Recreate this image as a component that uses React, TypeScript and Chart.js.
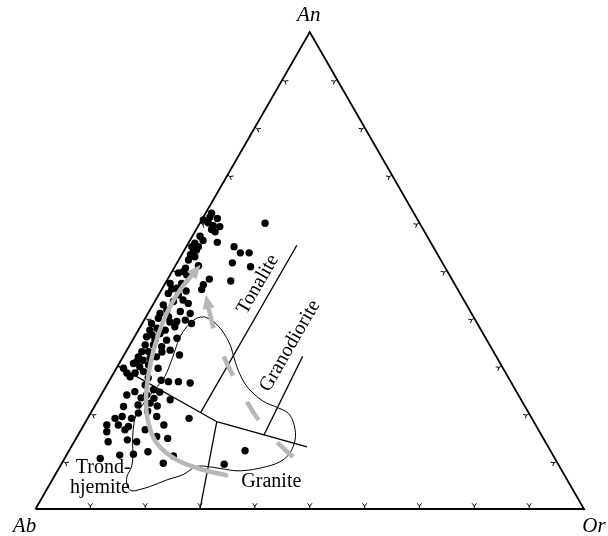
import React, { useEffect, useRef } from "react";
import { Chart, registerables } from "chart.js";

Chart.register(...registerables);

// Normative feldspar compositions, mol % (Ab = 100 - An - Or)
const sampleAn: number[] = [
  62.0, 61.2, 60.9, 60.6, 60.0, 59.4, 59.2, 58.6, 58.1, 59.9,
  57.2, 56.3, 55.9, 55.7, 55.0, 55.0, 53.9, 54.3, 53.3, 52.9,
  52.2, 51.0, 55.0, 53.7, 53.7, 51.6, 50.8, 50.5, 49.5, 49.8,
  49.1, 48.2, 47.8, 47.3, 47.3, 47.0, 46.0, 46.3, 45.2, 44.9,
  43.5, 43.8, 43.1, 42.8, 41.7, 41.4, 41.0, 41.0, 40.0, 40.3,
  39.3, 39.6, 38.9, 38.9, 37.9, 37.5, 37.5, 38.2, 36.1, 36.5,
  36.8, 35.4, 35.4, 35.8, 34.4, 34.4, 34.0, 33.0, 33.0, 32.3,
  31.9, 31.2, 31.6, 31.9, 30.5, 29.8, 30.2, 29.5, 29.5, 30.9,
  28.5, 27.7, 28.5, 28.8, 26.7, 26.7, 26.4, 26.0, 25.0, 24.5,
  24.6, 23.9, 23.9, 23.2, 22.9, 22.2, 21.6, 21.8, 21.5, 20.5,
  20.1, 19.4, 19.4, 19.0, 19.0, 19.0, 17.6, 17.6, 17.3, 16.6,
  17.6, 16.2, 16.6, 15.2, 14.8, 14.1, 14.5, 14.1, 12.0, 11.5,
  11.3, 11.1, 10.6, 9.6, 12.2, 9.4, 45.7, 39.2, 32.9, 27.5,
  23.3, 27.0, 46.1, 33.3,
];
const sampleOr: number[] = [
  1.1, 1.2, 2.7, 0.3, 1.5, 2.7, 4.0, 2.8, 3.7, 11.9,
  1.4, 2.4, 5.2, 1.2, 1.0, 2.2, 1.8, 2.2, 1.6, 2.6,
  1.8, 4.2, 8.7, 10.5, 12.1, 10.1, 13.8, 2.1, 1.3, 2.1,
  3.0, 7.6, 11.7, 0.9, 3.0, 7.1, 7.3, 2.6, 1.6, 3.6,
  3.4, 5.0, 6.3, 1.9, 3.1, 5.7, 7.7, 2.2, 2.4, 4.1,
  6.1, 7.5, 9.0, 1.7, 3.2, 2.1, 4.9, 6.3, 2.2, 3.0,
  4.3, 4.1, 6.2, 7.9, 2.8, 4.3, 6.0, 2.9, 4.1, 10.1,
  2.8, 4.0, 5.1, 6.1, 2.6, 4.1, 5.5, 7.6, 1.3, 3.0,
  2.4, 3.4, 3.9, 5.3, 10.9, 12.7, 15.0, 7.0, 9.0, 10.4,
  5.8, 4.7, 8.3, 10.0, 13.1, 9.8, 11.4, 7.8, 5.3, 10.2,
  8.7, 12.4, 6.1, 5.0, 8.0, 18.5, 14.6, 6.3, 8.3, 8.0,
  4.2, 4.9, 11.7, 14.5, 16.7, 11.4, 9.5, 6.2, 14.5, 12.1,
  9.7, 19.6, 6.5, 18.5, 32.1, 29.7, 4.6, 4.9, 6.6, 6.8,
  7.6, 9.4, 1.8, 7.9,
];

// Field boundaries, [An, Or]
const lowerBoundary: [number, number][] = [[30.0, 0.0], [18.3, 23.9], [13.0, 43.0]];
const tonaliteGranodiorite: [number, number][] = [[20.2, 20.0], [55.3, 20.0]];
const granodioriteGranite: [number, number][] = [[15.5, 33.9], [32.0, 32.7]];
const graniteTrondhjemite: [number, number][] = [[0.0, 30.0], [18.3, 23.9]];

// Outline of the comparison field, [An, Or]
const fieldOutline: [number, number][] = [
  [40.3, 10.7], [39.3, 12.8], [37.5, 15.2], [34.4, 18.3], [32.3, 19.9],
  [29.1, 22.4], [25.6, 25.8], [22.6, 30.2], [21.3, 33.4], [20.1, 36.0],
  [18.2, 37.9], [15.2, 39.8], [12.4, 40.5], [10.3, 40.0], [8.9, 37.7],
  [8.0, 33.3], [8.5, 29.4], [9.0, 26.1], [8.8, 24.7], [7.2, 23.3],
  [6.1, 20.9], [4.7, 18.5], [4.1, 17.0], [3.8, 15.7], [4.6, 14.5],
  [6.7, 13.3], [8.8, 13.1], [11.3, 12.1], [13.8, 10.8], [16.6, 9.5],
  [19.7, 8.5], [22.4, 8.7], [25.2, 9.2], [27.0, 9.7], [30.2, 9.4],
  [33.3, 8.8], [36.1, 8.3], [38.2, 8.5], [40.0, 9.4], [40.3, 10.7],
];

// Differentiation trends; the last pair is the arrow tip
const trendSolid: [number, number][] = [
  [7.0, 31.6], [8.2, 26.5], [10.3, 20.6], [13.8, 15.2], [18.0, 11.6],
  [22.9, 8.7], [28.5, 6.4], [34.4, 4.6], [41.0, 3.4], [45.9, 3.4],
  [49.4, 4.1], [51.2, 4.5],
];
const trendDashed: [number, number][] = [
  [10.9, 41.5], [13.9, 37.2], [18.5, 31.5], [22.3, 27.5], [25.2, 24.8],
  [27.9, 22.1], [31.9, 18.4], [35.0, 15.9], [37.9, 13.5], [42.4, 10.3],
  [44.9, 8.6],
];

const tickSteps = [10, 20, 30, 40, 50, 60, 70, 80, 90];

const fieldNames = ["Tonalite", "Granodiorite", "Trond-", "hjemite", "Granite"];
const fieldNameAn = [47.1, 34.2, 8.7, 4.5, 5.8];
const fieldNameOr = [17.0, 29.3, 8.0, 9.5, 40.1];
const fieldNameAngle = [-60, -60, 0, 0, 0];

const GRAY = "#b7b7b7";
const SERIF = '"Liberation Serif", "Times New Roman", serif';

const toXY = (an: number, or: number) => ({ x: or + an / 2, y: an });
const pairsToXY = (pts: [number, number][]) => pts.map(([an, or]) => toXY(an, or));

function pix(chart: any, an: number, or: number) {
  const p = toXY(an, or);
  return { x: chart.scales.x.getPixelForValue(p.x), y: chart.scales.y.getPixelForValue(p.y) };
}

const ternaryDecor = {
  id: "ternaryDecor",
  beforeDatasetsDraw(chart: any) {
    const ctx = chart.ctx;
    const centre = pix(chart, 100 / 3, 100 / 3);
    ctx.save();
    ctx.strokeStyle = "#000";
    ctx.lineWidth = 1;
    const sides = [
      (k: number) => [0, k] as [number, number],
      (k: number) => [k, 0] as [number, number],
      (k: number) => [k, 100 - k] as [number, number],
    ];
    const sideEnds = [
      [pix(chart, 0, 0), pix(chart, 0, 100)],
      [pix(chart, 0, 0), pix(chart, 100, 0)],
      [pix(chart, 0, 100), pix(chart, 100, 0)],
    ];
    sides.forEach((f, i) => {
      const [a, b] = sideEnds[i];
      let nx = -(b.y - a.y);
      let ny = b.x - a.x;
      const len = Math.hypot(nx, ny);
      nx /= len;
      ny /= len;
      tickSteps.forEach((k) => {
        const [an, or] = f(k);
        const p = pix(chart, an, or);
        let sx = nx, sy = ny;
        if ((centre.x - p.x) * sx + (centre.y - p.y) * sy < 0) { sx = -sx; sy = -sy; }
        const mx = p.x + sx * 3, my = p.y + sy * 3;
        ctx.beginPath();
        ctx.moveTo(p.x, p.y);
        ctx.lineTo(mx, my);
        for (const s of [-1, 1]) {
          const ang = (s * 40 * Math.PI) / 180;
          const ax = sx * Math.cos(ang) - sy * Math.sin(ang);
          const ay = sx * Math.sin(ang) + sy * Math.cos(ang);
          ctx.moveTo(mx, my);
          ctx.lineTo(mx + ax * 3.5, my + ay * 3.5);
        }
        ctx.stroke();
      });
    });
    ctx.restore();
  },
  afterDatasetDraw(chart: any, args: any) {
    const ds = chart.data.datasets[args.index];
    if (!ds.arrowFrom) return;
    const ctx = chart.ctx;
    const from = pix(chart, ds.arrowFrom[0], ds.arrowFrom[1]);
    const tip = pix(chart, ds.arrowTip[0], ds.arrowTip[1]);
    const dx = tip.x - from.x, dy = tip.y - from.y;
    const l = Math.hypot(dx, dy);
    const ux = dx / l, uy = dy / l;
    const bx = tip.x - ux * 14, by = tip.y - uy * 14;
    ctx.save();
    ctx.fillStyle = GRAY;
    ctx.beginPath();
    ctx.moveTo(tip.x, tip.y);
    ctx.lineTo(bx - uy * 6, by + ux * 6);
    ctx.lineTo(bx + uy * 6, by - ux * 6);
    ctx.closePath();
    ctx.fill();
    ctx.restore();
  },
  afterDraw(chart: any) {
    const ctx = chart.ctx;
    const ab = pix(chart, 0, 0);
    const or = pix(chart, 0, 100);
    const an = pix(chart, 100, 0);
    ctx.save();
    ctx.fillStyle = "#000";
    ctx.textAlign = "center";
    ctx.textBaseline = "alphabetic";
    ctx.font = `italic 21px ${SERIF}`;
    ctx.fillText("An", an.x - 1, an.y - 11);
    ctx.fillText("Ab", ab.x - 11, ab.y + 23);
    ctx.fillText("Or", or.x + 10, or.y + 23);
    ctx.font = `20px ${SERIF}`;
    ctx.textBaseline = "middle";
    fieldNames.forEach((name, i) => {
      const p = pix(chart, fieldNameAn[i], fieldNameOr[i]);
      ctx.save();
      ctx.translate(p.x, p.y);
      ctx.rotate((fieldNameAngle[i] * Math.PI) / 180);
      ctx.fillText(name, 0, 0);
      ctx.restore();
    });
    ctx.restore();
  },
};

export default function App() {
  const canvasRef = useRef<HTMLCanvasElement | null>(null);

  useEffect(() => {
    if (!canvasRef.current) return;
    const line = (data: any[], extra: any) => ({
      type: "line",
      data,
      showLine: true,
      fill: false,
      pointRadius: 0,
      borderColor: "#000",
      borderWidth: 1.3,
      tension: 0,
      clip: false,
      ...extra,
    });
    const frame = [toXY(0, 0), toXY(0, 100), toXY(100, 0), toXY(0, 0)];
    // The first dataset is painted last, so the trends sit above the samples
    const chart = new Chart(canvasRef.current, {
      type: "scatter",
      data: {
        datasets: [
          line(pairsToXY(trendSolid.slice(0, -1)), {
            borderColor: GRAY,
            borderWidth: 4.5,
            tension: 0.35,
            arrowFrom: trendSolid[trendSolid.length - 2],
            arrowTip: trendSolid[trendSolid.length - 1],
          }),
          line(pairsToXY(trendDashed.slice(0, -1)), {
            borderColor: GRAY,
            borderWidth: 4.5,
            borderDash: [21.5, 29.5],
            tension: 0.2,
            arrowFrom: trendDashed[trendDashed.length - 2],
            arrowTip: trendDashed[trendDashed.length - 1],
          }),
          {
            label: "samples",
            data: sampleAn.map((an, i) => toXY(an, sampleOr[i])),
            pointRadius: 3.7,
            pointBackgroundColor: "#000",
            pointBorderWidth: 0,
            borderWidth: 0,
            clip: false,
          } as any,
          line(pairsToXY(fieldOutline), { borderWidth: 1, tension: 0.35 }),
          line(pairsToXY(lowerBoundary), {}),
          line(pairsToXY(tonaliteGranodiorite), {}),
          line(pairsToXY(granodioriteGranite), {}),
          line(pairsToXY(graniteTrondhjemite), {}),
          line(frame, { borderWidth: 1.8, borderJoinStyle: "miter" }),
        ] as any,
      },
      options: {
        animation: false,
        responsive: false,
        events: [],
        layout: { padding: { left: 35.5, right: 24, top: 32, bottom: 27 } },
        scales: {
          x: { type: "linear", min: 0, max: 100, display: false },
          y: { type: "linear", min: 0, max: 100, display: false },
        },
        plugins: { legend: { display: false }, tooltip: { enabled: false } },
      },
      plugins: [ternaryDecor],
    });
    return () => chart.destroy();
  }, []);

  return (
    <div style={{ position: "absolute", left: 0, top: 0, width: 608, height: 536, background: "#fff" }}>
      <canvas ref={canvasRef} width={608} height={536} style={{ width: 608, height: 536 }} />
    </div>
  );
}
